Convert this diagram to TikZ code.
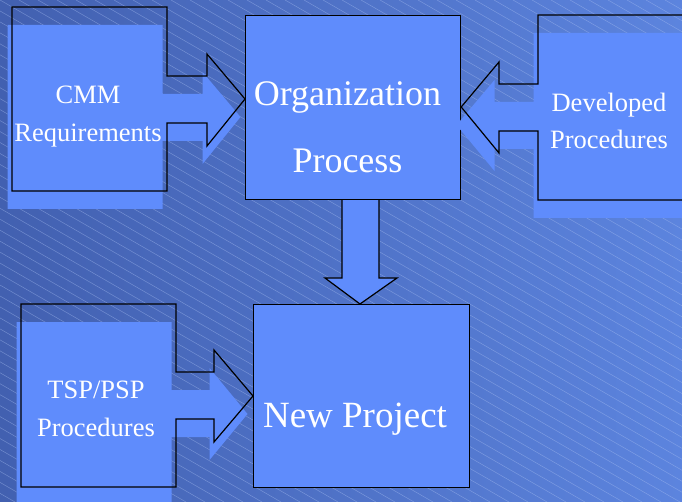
\documentclass[tikz,border=0pt]{standalone}
\usepackage{fontspec}
\setmainfont{Liberation Serif}
\usetikzlibrary{positioning}
\usetikzlibrary{calc}
\definecolor{bgdark}{RGB}{66,96,176}
\definecolor{bglight}{RGB}{92,132,222}
\definecolor{boxblue}{RGB}{95,140,252}
\definecolor{stripecol}{RGB}{170,192,242}
\tikzset{
  boxline/.style={draw=black, line width=1.2pt, line join=miter},
  boxfill/.style={fill=boxblue},
  offset/.style={shift={(-4.5,18)}},
  stripe/.style={draw=stripecol, line width=0.5pt, opacity=0.45},
  smalltxt/.style={text=white, align=center, inner sep=0pt, font=\fontsize{26.5}{37.5}\selectfont},
  bigtxt/.style={text=white, align=center, inner sep=0pt, font=\fontsize{36}{67}\selectfont},
}

\begin{document}
\begin{tikzpicture}[x=1pt, y=-1pt]
        \useasboundingbox (0,0) rectangle (682,502);
        \begin{scope}
        \clip (0,0) rectangle (682,502);
        % background %
        \shade[left color=bgdark, right color=bglight] (0,0) rectangle (682,502);
        \foreach \i in {-950,-931,...,690}
          \draw[stripe] (\i,0) -- ++(870,502);

        % boxes %
        \node[boxfill, boxline, minimum width=215, minimum height=184, inner sep=0pt, anchor=north west] (orgbox) at (245,15) {};
        \node[boxfill, boxline, minimum width=216, minimum height=183, inner sep=0pt, anchor=north west] (projbox) at (253,304) {};

        % CMM box with its arrow %
        \path[boxfill, offset] (12,7) -- (167,7) -- (167,76) -- (207,76) -- (207,54) -- (245,99)
          -- (207,146) -- (207,123) -- (167,123) -- (167,191) -- (12,191) -- cycle;
        \draw[boxline] (12,7) -- (167,7) -- (167,76) -- (207,76) -- (207,54) -- (orgbox.west |- 0,99)
          -- (207,146) -- (207,123) -- (167,123) -- (167,191) -- (12,191) -- cycle;

        % developed procedures box with its arrow %
        \path[boxfill, offset] (690,15) -- (538,15) -- (538,84) -- (499,84) -- (499,62) -- (461,107)
          -- (499,153) -- (499,131) -- (538,131) -- (538,200) -- (690,200) -- cycle;
        \draw[boxline] (690,15) -- (538,15) -- (538,84) -- (499,84) -- (499,62) -- (orgbox.east |- 0,107)
          -- (499,153) -- (499,131) -- (538,131) -- (538,200) -- (690,200);

        % TSP/PSP box with its arrow %
        \path[boxfill, offset] (21,304) -- (176,304) -- (176,372) -- (214,372) -- (214,350) -- (252,396)
          -- (214,442) -- (214,419) -- (176,419) -- (176,487) -- (21,487) -- cycle;
        \draw[boxline] (21,304) -- (176,304) -- (176,372) -- (214,372) -- (214,350) -- (projbox.west |- 0,396)
          -- (214,442) -- (214,419) -- (176,419) -- (176,487) -- (21,487) -- cycle;

        % down arrow %
        \draw[boxfill, boxline] (orgbox.south -| 342,0) -- (342,278) -- (325,278) -- (projbox.north -| 360,0)
          -- (397,278) -- (379,278) -- (orgbox.south -| 379,0);
        \end{scope}

        % texts %
        \node[smalltxt] (cmm) at (88,116.5) {CMM\\Requirements};
        \node[bigtxt] (org) at (347.5,127) {Organization\\Process};
        \node[smalltxt] (dev) at (609,121) {Developed\\Procedures};
        \node[smalltxt] (tsp) at (96,409) {TSP/PSP\\Procedures};
        \node[text=white, inner sep=0pt, font=\fontsize{37}{44}\selectfont, anchor=base] (proj) at (355,427) {New Project};
\end{tikzpicture}
\end{document}
